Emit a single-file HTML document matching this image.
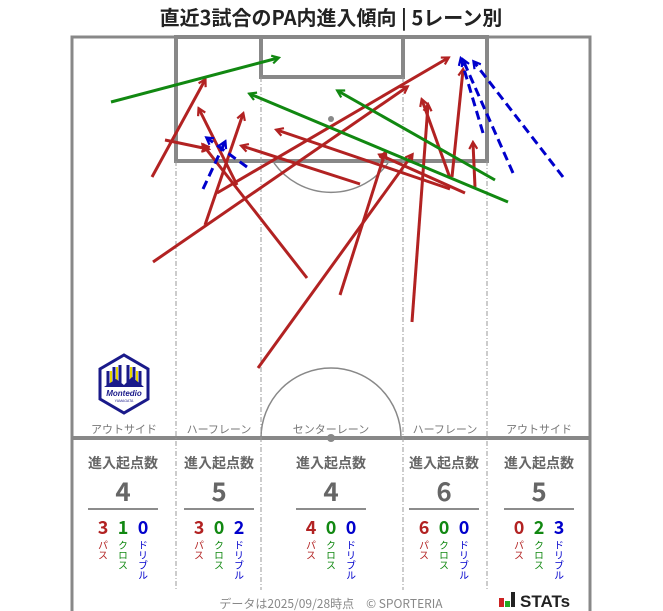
<!DOCTYPE html>
<html><head><meta charset="utf-8"><style>
body{margin:0;background:#fff;}
svg{display:block;font-family:"Liberation Sans","Noto Sans CJK JP",sans-serif;}
</style></head><body>
<svg width="663" height="611" viewBox="0 0 663 611" xmlns="http://www.w3.org/2000/svg">
<defs>
<marker id="ar" markerWidth="10" markerHeight="10" refX="7" refY="5" orient="auto" markerUnits="userSpaceOnUse"><path d="M1,1 L8,5 L1,9" fill="none" stroke="#b22222" stroke-width="2.2"/></marker>
<marker id="ag" markerWidth="10" markerHeight="10" refX="7" refY="5" orient="auto" markerUnits="userSpaceOnUse"><path d="M1,1 L8,5 L1,9" fill="none" stroke="#118811" stroke-width="2.2"/></marker>
<marker id="ab" markerWidth="10" markerHeight="10" refX="7" refY="5" orient="auto" markerUnits="userSpaceOnUse"><path d="M1,1 L8,5 L1,9" fill="none" stroke="#0000cc" stroke-width="2.2"/></marker>
</defs>
<text x="331" y="25" text-anchor="middle" font-size="20" font-weight="bold" fill="#222" font-family="'Noto Sans CJK JP',sans-serif">直近3試合のPA内進入傾向 | 5レーン別</text>
<!-- pitch -->
<g fill="none" stroke="#888">
<path d="M72,611 V37 H590 V611" stroke-width="3"/>
<line x1="71" y1="438" x2="591" y2="438" stroke-width="4"/>
<rect x="176" y="37" width="311" height="124" stroke-width="4"/>
<rect x="261" y="37" width="142" height="40" stroke-width="4"/>
<path d="M274,163 A70,70 0 0 0 388,163" stroke-width="1.5"/>
<path d="M261,438 A70,70 0 0 1 401,438" stroke-width="1.5"/>
<g stroke-width="1" stroke-dasharray="5,2,1,2" stroke="#999">
<line x1="176" y1="161" x2="176" y2="590"/>
<line x1="261" y1="77" x2="261" y2="590"/>
<line x1="403" y1="77" x2="403" y2="590"/>
<line x1="487" y1="161" x2="487" y2="590"/>
</g>
</g>
<circle cx="331" cy="119" r="3" fill="#888"/>
<circle cx="331" cy="438" r="4" fill="#888"/>
<!-- logo -->
<g transform="translate(124,385)">
<polygon points="0,-30 24,-16 24,14 0,28 -24,14 -24,-16" fill="#fff" stroke="#1a1a8a" stroke-width="3"/>
<path d="M-16,-14 V2 M-10,-18 V2 M-4,-20 V0 M4,-20 V0 M10,-18 V2 M16,-14 V2" stroke="#1a1a8a" stroke-width="3"/>
<path d="M-13,-14 V2 M-7,-18 V2 M7,-18 V2 M13,-14 V2" stroke="#e8d800" stroke-width="2"/>
<path d="M-20,2 L-8,-6 L0,0 L8,-8 L20,2 Z" fill="#1a1a8a"/>
<text x="0" y="11" text-anchor="middle" font-size="8" font-style="italic" font-weight="bold" fill="#1a1a8a">Montedio</text>
<text x="0" y="17" text-anchor="middle" font-size="3.5" fill="#1a1a8a">YAMAGATA</text>
</g>
<!-- lane labels -->
<g font-size="11" fill="#777" text-anchor="middle" font-family="'Noto Sans CJK JP',sans-serif">
<text x="124" y="433">アウトサイド</text>
<text x="219" y="433">ハーフレーン</text>
<text x="331" y="433">センターレーン</text>
<text x="445" y="433">ハーフレーン</text>
<text x="539" y="433">アウトサイド</text>
</g>
<!-- arrows -->
<g stroke="#b22222" stroke-width="3" fill="none" marker-end="url(#ar)">
<line x1="152" y1="177" x2="205" y2="80"/>
<line x1="237" y1="185" x2="199" y2="109"/>
<line x1="205" y1="225" x2="243" y2="114"/>
<line x1="165" y1="140" x2="208" y2="149"/>
<line x1="307" y1="278" x2="203" y2="145"/>
<line x1="360" y1="184" x2="242" y2="146"/>
<line x1="450" y1="189" x2="277" y2="130"/>
<line x1="465" y1="193" x2="380" y2="155"/>
<line x1="217" y1="193" x2="448" y2="58"/>
<line x1="153" y1="262" x2="407" y2="87"/>
<line x1="258" y1="368" x2="412" y2="155"/>
<line x1="340" y1="295" x2="385" y2="153"/>
<line x1="412" y1="322" x2="428" y2="105"/>
<line x1="450" y1="178" x2="422" y2="100"/>
<line x1="452" y1="177" x2="463" y2="70"/>
<line x1="475" y1="187" x2="473" y2="143"/>
</g>
<g stroke="#118811" stroke-width="3" fill="none" marker-end="url(#ag)">
<line x1="111" y1="102" x2="278" y2="58"/>
<line x1="508" y1="202" x2="250" y2="94"/>
<line x1="495" y1="180" x2="338" y2="91"/>
</g>
<g stroke="#0000cc" stroke-width="3" fill="none" stroke-dasharray="9,5" marker-end="url(#ab)">
<line x1="203" y1="189" x2="225" y2="142"/>
<line x1="247" y1="167" x2="207" y2="138"/>
<line x1="483" y1="133" x2="461" y2="59"/>
<line x1="513" y1="173" x2="463" y2="60"/>
<line x1="563" y1="177" x2="474" y2="62"/>
</g>
<!-- stats -->
<g font-family="'Noto Sans CJK JP',sans-serif" text-anchor="middle">
<g font-size="14" font-weight="bold" fill="#666">
<text x="123" y="468">進入起点数</text><text x="219" y="468">進入起点数</text><text x="331" y="468">進入起点数</text><text x="444" y="468">進入起点数</text><text x="539" y="468">進入起点数</text>
</g>
<g font-size="26" font-weight="bold" fill="#666">
<text x="123" y="501">4</text><text x="219" y="501">5</text><text x="331" y="501">4</text><text x="444" y="501">6</text><text x="539" y="501">5</text>
</g>
<g stroke="#666" stroke-width="1.5">
<line x1="88" y1="509" x2="158" y2="509"/><line x1="184" y1="509" x2="254" y2="509"/><line x1="296" y1="509" x2="366" y2="509"/><line x1="409" y1="509" x2="479" y2="509"/><line x1="504" y1="509" x2="574" y2="509"/>
</g>
<g font-size="18" font-weight="bold">
<text x="103" y="534" fill="#b22222">3</text><text x="123" y="534" fill="#118811">1</text><text x="143" y="534" fill="#0000cc">0</text>
<text x="199" y="534" fill="#b22222">3</text><text x="219" y="534" fill="#118811">0</text><text x="239" y="534" fill="#0000cc">2</text>
<text x="311" y="534" fill="#b22222">4</text><text x="331" y="534" fill="#118811">0</text><text x="351" y="534" fill="#0000cc">0</text>
<text x="424" y="534" fill="#b22222">6</text><text x="444" y="534" fill="#118811">0</text><text x="464" y="534" fill="#0000cc">0</text>
<text x="519" y="534" fill="#b22222">0</text><text x="539" y="534" fill="#118811">2</text><text x="559" y="534" fill="#0000cc">3</text>
</g>
<g font-size="10" style="writing-mode:vertical-rl">
<text x="103" y="540" fill="#b22222" text-anchor="start">パス</text><text x="123" y="540" fill="#118811" text-anchor="start">クロス</text><text x="143" y="540" fill="#0000cc" text-anchor="start">ドリブル</text>
<text x="199" y="540" fill="#b22222" text-anchor="start">パス</text><text x="219" y="540" fill="#118811" text-anchor="start">クロス</text><text x="239" y="540" fill="#0000cc" text-anchor="start">ドリブル</text>
<text x="311" y="540" fill="#b22222" text-anchor="start">パス</text><text x="331" y="540" fill="#118811" text-anchor="start">クロス</text><text x="351" y="540" fill="#0000cc" text-anchor="start">ドリブル</text>
<text x="424" y="540" fill="#b22222" text-anchor="start">パス</text><text x="444" y="540" fill="#118811" text-anchor="start">クロス</text><text x="464" y="540" fill="#0000cc" text-anchor="start">ドリブル</text>
<text x="519" y="540" fill="#b22222" text-anchor="start">パス</text><text x="539" y="540" fill="#118811" text-anchor="start">クロス</text><text x="559" y="540" fill="#0000cc" text-anchor="start">ドリブル</text>
</g>
<text x="331" y="608" font-size="12" fill="#888">データは2025/09/28時点　© SPORTERIA</text>
</g>
<rect x="499" y="598" width="5" height="9" fill="#cc2222"/>
<rect x="505" y="601" width="5" height="6" fill="#22aa22"/>
<rect x="511" y="592" width="4" height="15" fill="#222"/>
<text x="520" y="607" font-size="17" font-weight="bold" fill="#222">STATs</text>
</svg>
</body></html>
